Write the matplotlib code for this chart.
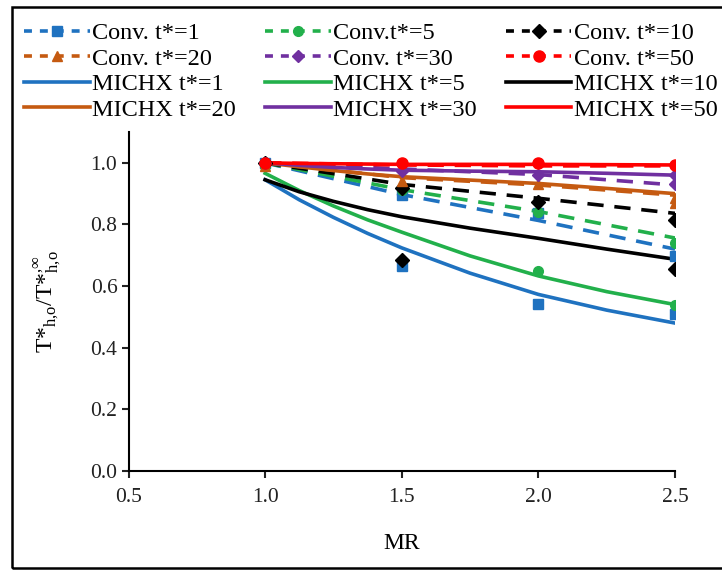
import matplotlib as mpl
mpl.rcParams.update({'font.family': 'Liberation Serif', 'mathtext.fontset': 'custom',
                     'mathtext.rm': 'Liberation Serif', 'mathtext.it': 'Liberation Serif:italic'})
from matplotlib import pyplot as plt
from matplotlib.patches import Rectangle

# MR values
mr_pts = [1.0, 1.5, 2.0, 2.5]
mr_fine = [1.0, 1.125, 1.25, 1.375, 1.5, 1.75, 2.0, 2.25, 2.5]

t_values = [1, 5, 10, 20, 30, 50]

# Conv. dashed lines
conv_line_1 = [1.0, 0.897, 0.813, 0.72]
conv_line_5 = [1.0, 0.913, 0.842, 0.756]
conv_line_10 = [1.0, 0.93, 0.885, 0.836]
conv_line_20 = [1.0, 0.952, 0.928, 0.895]
conv_line_30 = [1.0, 0.98, 0.962, 0.928]
conv_line_50 = [1.0, 0.993, 0.99, 0.99]

# Conv. markers
conv_mark_1 = [1.0, 0.897, 0.836, 0.697]
conv_mark_5 = [0.99, 0.913, 0.842, 0.74]
conv_mark_10 = [1.0, 0.917, 0.874, 0.816]
conv_mark_20 = [0.99, 0.94, 0.93, 0.87]
conv_mark_30 = [1.0, 0.975, 0.962, 0.93]
conv_mark_50 = [1.0, 1.0, 1.0, 0.993]

# MICHX solid lines
michx_1 = [0.945, 0.88, 0.823, 0.771, 0.724, 0.642, 0.573, 0.522, 0.48]
michx_5 = [0.966, 0.91, 0.86, 0.815, 0.775, 0.698, 0.633, 0.582, 0.54]
michx_10 = [0.945, 0.906, 0.875, 0.848, 0.825, 0.788, 0.755, 0.72, 0.687]
michx_20 = [1.0, 0.987, 0.975, 0.964, 0.955, 0.944, 0.933, 0.917, 0.90]
michx_30 = [1.0, 0.992, 0.985, 0.98, 0.976, 0.973, 0.971, 0.966, 0.96]
michx_50 = [1.0, 0.998, 0.997, 0.996, 0.995, 0.995, 0.995, 0.994, 0.993]

# extra points lying near the MICHX curves
pt_x_1 = [1.5, 2.0, 2.5]
pt_y_1 = [0.665, 0.542, 0.51]
pt_x_5 = [2.0, 2.5]
pt_y_5 = [0.65, 0.54]
pt_x_10 = [1.5, 2.5]
pt_y_10 = [0.686, 0.655]
pt_x_20 = [2.5]
pt_y_20 = [0.885]
pt_x_30 = [2.5]
pt_y_30 = [0.96]

colors = {1: '#1f72c0', 5: '#22b04b', 10: '#000000', 20: '#c55a11', 30: '#7030a0', 50: '#ff0000'}
markers = {1: 's', 5: 'o', 10: 'D', 20: '^', 30: 'D', 50: 'o'}
msizes = {1: 7, 5: 7, 10: 7, 20: 7, 30: 6, 50: 8}

conv_lines = {1: conv_line_1, 5: conv_line_5, 10: conv_line_10, 20: conv_line_20, 30: conv_line_30, 50: conv_line_50}
conv_marks = {1: conv_mark_1, 5: conv_mark_5, 10: conv_mark_10, 20: conv_mark_20, 30: conv_mark_30, 50: conv_mark_50}
michx = {1: michx_1, 5: michx_5, 10: michx_10, 20: michx_20, 30: michx_30, 50: michx_50}
extra = {1: (pt_x_1, pt_y_1), 5: (pt_x_5, pt_y_5), 10: (pt_x_10, pt_y_10),
         20: (pt_x_20, pt_y_20), 30: (pt_x_30, pt_y_30)}


def main():
    fig = plt.figure(figsize=(7.22, 5.70), dpi=100)
    ax = fig.add_axes([128.5 / 722, 1 - 471 / 570, (675 - 128.5) / 722, (471 - 132) / 570])

    conv_handles = {}
    michx_handles = {}
    for t in t_values:
        c = colors[t]
        ax.plot(mr_pts, conv_lines[t], '--', color=c, lw=2.6, dashes=(4.5, 3), zorder=3)
        ax.plot(mr_pts, conv_marks[t], linestyle='none', marker=markers[t], color=c,
                ms=msizes[t], zorder=5)
        conv_handles[t] = plt.Line2D([], [], color=c, lw=2.6, ls='--', dashes=(2.2, 2.2),
                                     marker=markers[t], ms=msizes[t])
        h, = ax.plot(mr_fine, michx[t], '-', color=c, lw=2.6, zorder=4)
        michx_handles[t] = h
        if t in extra:
            ax.plot(extra[t][0], extra[t][1], linestyle='none', marker=markers[t], color=c,
                    ms=msizes[t], zorder=5)

    ax.set_xlim(0.5, 2.5)
    ax.set_ylim(0.0, 1.1)
    ax.set_xticks([0.5, 1.0, 1.5, 2.0, 2.5])
    ax.set_yticks([0.0, 0.2, 0.4, 0.6, 0.8, 1.0])
    ax.xaxis.set_major_formatter(mpl.ticker.FormatStrFormatter('%.1f'))
    ax.yaxis.set_major_formatter(mpl.ticker.FormatStrFormatter('%.1f'))
    ax.spines['right'].set_visible(False)
    ax.spines['top'].set_visible(False)
    for s in ['left', 'bottom']:
        ax.spines[s].set_linewidth(1.5)
    ax.tick_params(direction='out', length=5, width=1.5, labelsize=15.5, colors='#222222')
    ax.tick_params(axis='x', pad=7)
    ax.tick_params(axis='y', pad=3)

    ax.set_xlabel('MR', fontsize=17, labelpad=19)
    ax.set_ylabel(r'T*$_{\rm h{,}o}$/T*$^{{,}\infty}_{\rm h{,}o}$', fontsize=17, labelpad=20)

    # legend filled column by column
    order = [conv_handles[1], conv_handles[20], michx_handles[1], michx_handles[20],
             conv_handles[5], conv_handles[30], michx_handles[5], michx_handles[30],
             conv_handles[10], conv_handles[50], michx_handles[10], michx_handles[50]]
    labels = ['Conv. t*=1', 'Conv. t*=20', 'MICHX t*=1', 'MICHX t*=20',
              'Conv.t*=5', 'Conv. t*=30', 'MICHX t*=5', 'MICHX t*=30',
              'Conv. t*=10', 'Conv. t*=50', 'MICHX t*=10', 'MICHX t*=50']
    fig.legend(order, labels, ncol=3, loc='upper left', bbox_to_anchor=(24 / 722, 1 - 22 / 570),
               frameon=False, fontsize=17.5, handlelength=2.7, handletextpad=0.1,
               columnspacing=1.2, labelspacing=0.15, borderpad=0, borderaxespad=0)

    fig.patches.append(Rectangle((12 / 722, 2 / 570), 1.0, 1 - 9 / 570, transform=fig.transFigure,
                                 fill=False, edgecolor='black', lw=1.8, clip_on=False))

    fig.savefig('out.png', dpi=100)


if __name__ == '__main__':
    main()
